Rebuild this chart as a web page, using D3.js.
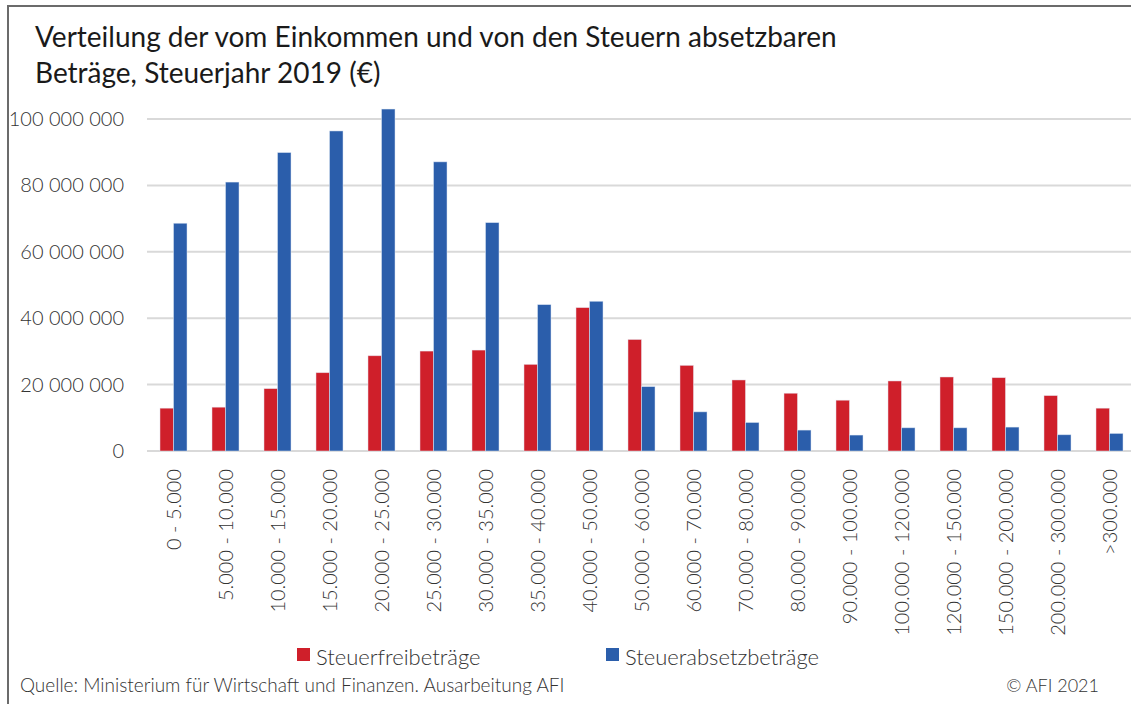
<!DOCTYPE html>
<html>
<head>
<meta charset="utf-8">
<script src="https://cdn.jsdelivr.net/npm/d3@7"></script>
<style>
  body { margin: 0; background: #fff; }
  svg { display: block; font-family: Lato, "Noto Sans", sans-serif; }
</style>
</head>
<body>
<svg id="chart"></svg>
<script>
'use strict';

// Einkommensklassen (€)
const categories = [
    '0 - 5.000', '5.000 - 10.000', '10.000 - 15.000', '15.000 - 20.000',
    '20.000 - 25.000', '25.000 - 30.000', '30.000 - 35.000', '35.000 - 40.000',
    '40.000 - 50.000', '50.000 - 60.000', '60.000 - 70.000', '70.000 - 80.000',
    '80.000 - 90.000', '90.000 - 100.000', '100.000 - 120.000', '120.000 - 150.000',
    '150.000 - 200.000', '200.000 - 300.000', '>300.000'
];

const steuerfrei = [
    12.9e6, 13.2e6, 18.8e6, 23.6e6, 28.7e6, 30.1e6, 30.4e6, 26.1e6, 43.2e6, 33.6e6,
    25.8e6, 21.4e6, 17.4e6, 15.3e6, 21.1e6, 22.3e6, 22.1e6, 16.7e6, 12.9e6
];

const steuerabsetz = [
    68.6e6, 81.0e6, 89.9e6, 96.4e6, 103.0e6, 87.1e6, 68.8e6, 44.1e6, 45.1e6, 19.4e6,
    11.8e6, 8.6e6, 6.3e6, 4.8e6, 7.0e6, 7.0e6, 7.2e6, 4.9e6, 5.3e6
];

const seriesNames = ['Steuerfreibeträge', 'Steuerabsetzbeträge'];
const yTicks = [0, 20e6, 40e6, 60e6, 80e6, 100e6];

const W = 1131, H = 704;
const colors = ['#cf1f2a', '#2b5eab'];
const textColor = '#333333';

const svg = d3.select('#chart').attr('width', W).attr('height', H);

// frame (right side is cut off in the original)
svg.append('path')
    .attr('d', `M8,${H} V6 H${W}`)
    .attr('fill', 'none')
    .attr('stroke', '#6b6b6b')
    .attr('stroke-width', 2);

// title
const title = svg.append('text')
    .attr('x', 35)
    .attr('fill', '#1a1a1a')
    .attr('font-size', 28);
title.append('tspan').attr('x', 35).attr('y', 47)
    .text('Verteilung der vom Einkommen und von den Steuern absetzbaren');
title.append('tspan').attr('x', 35).attr('y', 83)
    .text('Beträge, Steuerjahr 2019 (€)');

const x0 = d3.scaleBand()
    .domain(categories)
    .range([147.5, 147.5 + 52 * categories.length])
    .paddingInner(0.48)
    .paddingOuter(0.24);

const x1 = d3.scaleBand()
    .domain([0, 1])
    .range([0, x0.bandwidth()]);

const y = d3.scaleLinear()
    .domain([0, 100e6])
    .range([451, 119]);

const locale = d3.formatLocale({ decimal: ',', thousands: ' ', grouping: [3], currency: ['', ' €'] });
const fmt = locale.format(',.0f');

// grid
svg.append('g')
    .selectAll('line')
    .data(yTicks)
    .join('line')
    .attr('x1', 147)
    .attr('x2', W)
    .attr('y1', d => y(d))
    .attr('y2', d => y(d))
    .attr('stroke', '#d9d9d9')
    .attr('stroke-width', 2);

// y axis labels
const yAxis = d3.axisLeft(y)
    .tickValues(yTicks)
    .tickSize(0)
    .tickPadding(0)
    .tickFormat(fmt);

const gy = svg.append('g')
    .attr('transform', 'translate(124,0)')
    .call(yAxis);
gy.select('.domain').remove();
gy.selectAll('text')
    .attr('fill', textColor)
    .attr('font-size', 20)
    .attr('font-weight', 300)
    .attr('font-family', 'Lato, "Noto Sans", sans-serif');

// bars
const groups = svg.append('g')
    .selectAll('g')
    .data(categories)
    .join('g')
    .attr('transform', d => `translate(${x0(d)},0)`);

groups.selectAll('rect')
    .data((d, i) => [steuerfrei[i], steuerabsetz[i]])
    .join('rect')
    .attr('x', (d, j) => x1(j))
    .attr('y', d => y(d))
    .attr('width', x1.bandwidth())
    .attr('height', d => y(0) - y(d))
    .attr('fill', (d, j) => colors[j])
    .attr('stroke', '#e8eef8')
    .attr('stroke-opacity', 0.6)
    .attr('stroke-width', 0.8);

// x axis labels (rotated)
const xAxis = d3.axisBottom(x0).tickSize(0).tickPadding(0);
const gx = svg.append('g')
    .attr('transform', `translate(0,${y(0)})`)
    .call(xAxis);
gx.select('.domain').remove();
gx.selectAll('text')
    .attr('fill', textColor)
    .attr('font-size', 20)
    .attr('font-weight', 300)
    .attr('font-family', 'Lato, "Noto Sans", sans-serif')
    .attr('text-anchor', 'end')
    .attr('transform', 'rotate(-90)')
    .attr('x', -18)
    .attr('y', 0)
    .attr('dy', '0.35em');

// legend
const legend = svg.append('g');
const legendX = [297, 606];
seriesNames.forEach((name, i) => {
    legend.append('rect')
        .attr('x', legendX[i])
        .attr('y', 648)
        .attr('width', 13)
        .attr('height', 13)
        .attr('fill', colors[i]);
    legend.append('text')
        .attr('x', legendX[i] + 19)
        .attr('y', 665)
        .attr('fill', textColor)
        .attr('font-size', 22)
        .attr('font-weight', 300)
        .text(name);
});

// source & copyright
svg.append('text')
    .attr('x', 20)
    .attr('y', 692)
    .attr('fill', textColor)
    .attr('font-size', 19)
    .attr('font-weight', 300)
    .text('Quelle: Ministerium für Wirtschaft und Finanzen. Ausarbeitung AFI');

svg.append('text')
    .attr('x', 1099)
    .attr('y', 692)
    .attr('text-anchor', 'end')
    .attr('fill', textColor)
    .attr('font-size', 18)
    .attr('font-weight', 300)
    .text('© AFI 2021');
</script>
</body>
</html>
